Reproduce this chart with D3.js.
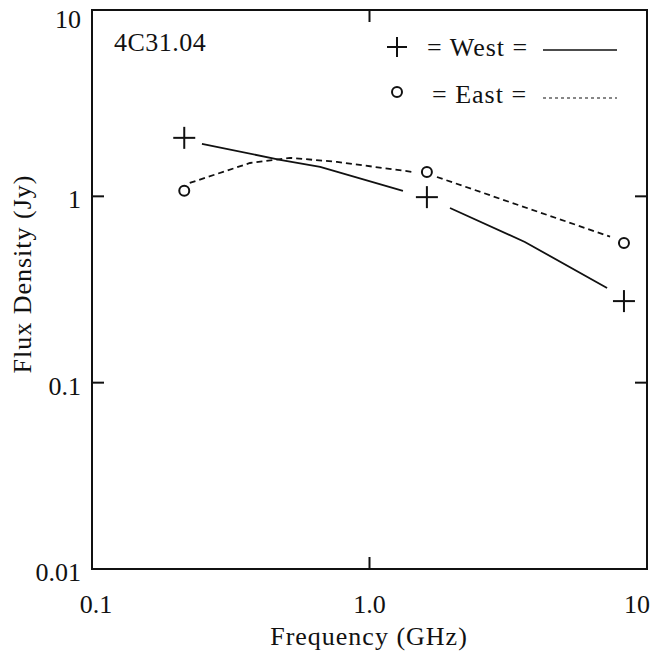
<!DOCTYPE html>
<html lang="en">
<head>
  <meta charset="utf-8" />
  <style>
    body { margin: 0; background: #fff; }
    text { font-family: "Liberation Serif", "Times New Roman", serif; fill: #111; }
  </style>
</head>
<body>
  <div id="chart"></div>
  <script src="https://cdnjs.cloudflare.com/ajax/libs/d3/7.8.5/d3.min.js"></script>
  <script>
    // measured points (GHz, Jy)
    const westFreq = [0.215, 1.61, 8.26];
    const westFlux = [2.06, 0.99, 0.274];
    const eastFreq = [0.215, 1.61, 8.26];
    const eastFlux = [1.07, 1.35, 0.561];

    // fitted curves, null = gap around a marker
    const westFitFreq = [0.249, 0.476, 0.664, 1.32, null, 1.95, 3.63, 7.18];
    const westFitFlux = [1.91, 1.57, 1.44, 1.07, null, 0.866, 0.569, 0.322];
    const eastFitFreq = [0.225, 0.371, 0.517, 0.764, 1.44, null, 1.75, 7.36];
    const eastFitFlux = [1.18, 1.51, 1.61, 1.53, 1.35, null, 1.27, 0.608];

    const xTicks = [0.1, 1, 10];
    const xTickLabels = ["0.1", "1.0", "10"];
    const yTicks = [10, 1, 0.1, 0.01];
    const yTickLabels = ["10", "1", "0.1", "0.01"];

    const width = 654, height = 657;
    const margin = { left: 92, right: 7, top: 10, bottom: 88 };

    const svg = d3.select("#chart").append("svg")
      .attr("width", width)
      .attr("height", height);

    const x = d3.scaleLog().domain([0.1, 10]).range([margin.left, width - margin.right]);
    const y = d3.scaleLog().domain([0.01, 10]).range([height - margin.bottom, margin.top]);

    const tickLen = 12;
    const fs = 26;

    // frame
    svg.append("rect")
      .attr("x", x(0.1)).attr("y", y(10))
      .attr("width", x(10) - x(0.1)).attr("height", y(0.01) - y(10))
      .attr("fill", "none").attr("stroke", "#111").attr("stroke-width", 2);

    // inner ticks (only at 1.0 on x, 1 and 0.1 on y)
    [1].forEach(v => {
      svg.append("line").attr("x1", x(v)).attr("x2", x(v))
        .attr("y1", y(0.01)).attr("y2", y(0.01) - tickLen)
        .attr("stroke", "#111").attr("stroke-width", 2);
      svg.append("line").attr("x1", x(v)).attr("x2", x(v))
        .attr("y1", y(10)).attr("y2", y(10) + tickLen)
        .attr("stroke", "#111").attr("stroke-width", 2);
    });
    [1, 0.1].forEach(v => {
      svg.append("line").attr("x1", x(0.1)).attr("x2", x(0.1) + tickLen)
        .attr("y1", y(v)).attr("y2", y(v))
        .attr("stroke", "#111").attr("stroke-width", 2);
      svg.append("line").attr("x1", x(10)).attr("x2", x(10) - tickLen)
        .attr("y1", y(v)).attr("y2", y(v))
        .attr("stroke", "#111").attr("stroke-width", 2);
    });

    // tick labels
    svg.selectAll("text.ytick")
      .data(yTicks)
      .join("text")
      .attr("class", "ytick")
      .attr("x", 81)
      .attr("y", d => Math.max(y(d) + 12, 28))
      .attr("text-anchor", "end")
      .attr("font-size", fs)
      .text((d, i) => yTickLabels[i]);

    svg.selectAll("text.xtick")
      .data(xTicks)
      .join("text")
      .attr("class", "xtick")
      .attr("x", d => Math.min(Math.max(x(d), 96), 637))
      .attr("y", 613)
      .attr("text-anchor", "middle")
      .attr("font-size", fs)
      .text((d, i) => xTickLabels[i]);

    // axis titles
    svg.append("text")
      .attr("x", 369)
      .attr("y", 645)
      .attr("text-anchor", "middle")
      .attr("font-size", fs)
      .attr("letter-spacing", 1)
      .text("Frequency (GHz)");

    svg.append("text")
      .attr("transform", "translate(31,274) rotate(-90)")
      .attr("text-anchor", "middle")
      .attr("font-size", fs)
      .attr("letter-spacing", 1)
      .text("Flux Density (Jy)");

    // source name
    svg.append("text")
      .attr("x", 114).attr("y", 51)
      .attr("font-size", fs)
      .attr("letter-spacing", 0.5)
      .text("4C31.04");

    // fitted curves
    const line = d3.line()
      .defined(d => d[0] != null)
      .x(d => x(d[0]))
      .y(d => y(d[1]));

    svg.append("path")
      .datum(westFitFreq.map((f, i) => [f, westFitFlux[i]]))
      .attr("d", line)
      .attr("fill", "none").attr("stroke", "#111").attr("stroke-width", 1.8);

    svg.append("path")
      .datum(eastFitFreq.map((f, i) => [f, eastFitFlux[i]]))
      .attr("d", line)
      .attr("fill", "none").attr("stroke", "#111").attr("stroke-width", 1.8)
      .attr("stroke-dasharray", "6,4");

    // markers
    const plus = (g, cx, cy, h) => {
      g.append("line").attr("x1", cx - h).attr("x2", cx + h).attr("y1", cy).attr("y2", cy)
        .attr("stroke", "#111").attr("stroke-width", 2);
      g.append("line").attr("x1", cx).attr("x2", cx).attr("y1", cy - h).attr("y2", cy + h)
        .attr("stroke", "#111").attr("stroke-width", 2);
    };

    westFreq.forEach((f, i) => plus(svg, x(f), y(westFlux[i]), 11));

    svg.selectAll("circle.east")
      .data(eastFreq.map((f, i) => [f, eastFlux[i]]))
      .join("circle")
      .attr("class", "east")
      .attr("cx", d => x(d[0]))
      .attr("cy", d => y(d[1]))
      .attr("r", 5)
      .attr("fill", "none").attr("stroke", "#111").attr("stroke-width", 2);

    // legend
    const lg = svg.append("g");
    plus(lg, 397, 47, 10);
    lg.append("text").attr("x", 427).attr("y", 56).attr("font-size", fs)
      .attr("letter-spacing", 1).text("= West =");
    lg.append("line").attr("x1", 543).attr("x2", 617).attr("y1", 50).attr("y2", 50)
      .attr("stroke", "#111").attr("stroke-width", 1.5);

    lg.append("circle").attr("cx", 397).attr("cy", 92).attr("r", 5)
      .attr("fill", "none").attr("stroke", "#111").attr("stroke-width", 2);
    lg.append("text").attr("x", 432).attr("y", 103).attr("font-size", fs)
      .attr("letter-spacing", 1).text("= East =");
    lg.append("line").attr("x1", 543).attr("x2", 617).attr("y1", 98).attr("y2", 98)
      .attr("stroke", "#111").attr("stroke-width", 1.2).attr("stroke-dasharray", "3,3");
  </script>
</body>
</html>
